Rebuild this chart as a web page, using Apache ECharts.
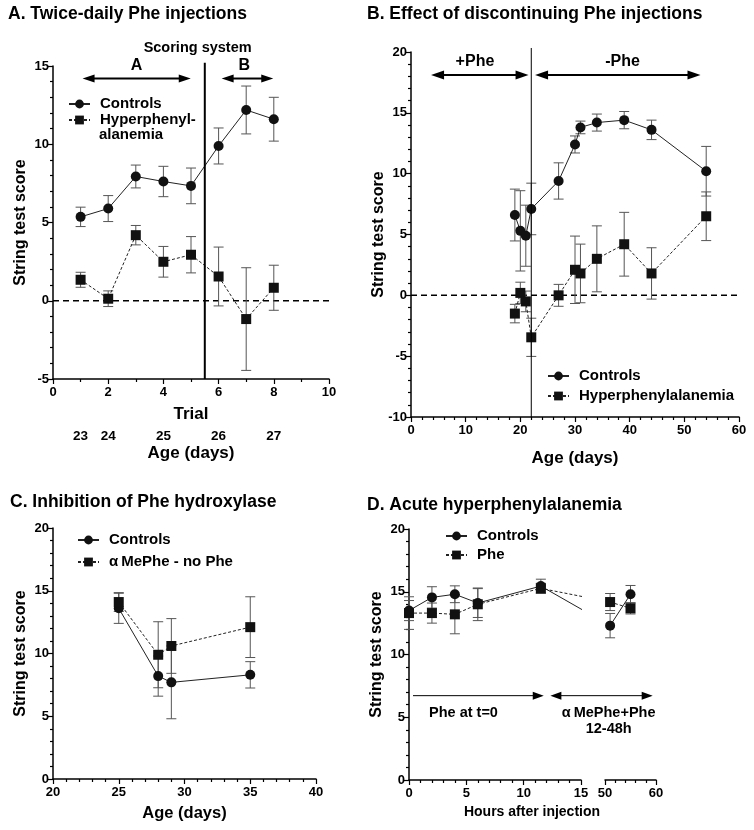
<!DOCTYPE html>
<html><head><meta charset="utf-8">
<script src="https://cdn.jsdelivr.net/npm/echarts@6/dist/echarts.min.js"></script>
<style>html,body{margin:0;padding:0;background:#fff}#c{width:754px;height:830px}</style>
</head><body><div id="c"></div>
<script>
// ---------- Panel A: Twice-daily Phe injections ----------
const trialsA = [1, 2, 3, 4, 5, 6, 7, 8];
const ctrlA = [5.36, 5.89, 7.94, 7.62, 7.34, 9.89, 12.19, 11.6];
const ctrlAErr = [0.62, 0.83, 0.73, 0.97, 1.14, 1.15, 1.53, 1.4];
const hypA = [1.34, 0.13, 4.19, 2.49, 2.94, 1.55, -1.17, 0.83];
const hypAErr = [0.48, 0.5, 0.62, 0.98, 1.16, 1.88, 3.28, 1.44];
const ageTrialsA = [1, 2, 4, 6, 8];
const ageLabelsA = ['23', '24', '25', '26', '27'];

// ---------- Panel B: Effect of discontinuing Phe injections ----------
const daysB = [19, 20, 21, 22, 27, 30, 31, 34, 39, 44, 54];
const ctrlB = [6.6, 5.3, 4.9, 7.1, 9.4, 12.4, 13.8, 14.2, 14.4, 13.6, 10.2];
const ctrlBErr = [2.13, 3.3, 2.51, 2.12, 1.49, 0.7, 0.52, 0.7, 0.71, 0.8, 2.04];
const hypB = [-1.5, 0.2, -0.5, -3.45, 0, 2.1, 1.8, 3.0, 4.2, 1.8, 6.5];
const hypBErr = [0.76, 0.88, 0.85, 1.57, 0.9, 2.77, 2.41, 2.71, 2.62, 2.11, 2.0];

// ---------- Panel C: Inhibition of Phe hydroxylase ----------
const daysC = [25, 28, 29, 35];
const ctrlC = [13.6, 8.2, 7.7, 8.3];
const ctrlCErr = [1.2, 1.6, 2.9, 1.05];
const meC = [14.1, 9.9, 10.6, 12.1];
const meCErr = [0.75, 2.63, 2.18, 2.42];

// ---------- Panel D: Acute hyperphenylalanemia ----------
const hoursD1 = [0, 2, 4, 6, 11.5];
const ctrlD1 = [13.5, 14.55, 14.8, 14.1, 15.45];
const ctrlD1Err = [0.8, 0.85, 0.67, 1.15, 0.55];
const pheD1 = [13.3, 13.3, 13.2, 14.0, 15.27];
const pheD1Err = [1.3, 0.8, 1.55, 1.3, 0.4];
const hoursD2 = [51, 55];
const ctrlD2 = [12.3, 14.8];
const ctrlD2Err = [0.97, 0.7];
const pheD2 = [14.18, 13.68];
const pheD2Err = [0.68, 0.45];

const FONT = '"Liberation Sans", Arial, Helvetica, sans-serif';
const chart = echarts.init(document.getElementById('c'), null, {renderer: 'canvas'});

function errRender(params, api) {
  const x = api.value(0);
  const t = api.coord([x, api.value(2)]);
  const b = api.coord([x, api.value(1)]);
  const cw = 5;
  const st = {stroke: '#555', lineWidth: 1, fill: null};
  return {type: 'group', children: [
    {type: 'line', shape: {x1: t[0], y1: t[1], x2: b[0], y2: b[1]}, style: st},
    {type: 'line', shape: {x1: t[0] - cw, y1: t[1], x2: t[0] + cw, y2: t[1]}, style: st},
    {type: 'line', shape: {x1: b[0] - cw, y1: b[1], x2: b[0] + cw, y2: b[1]}, style: st}
  ]};
}
function errSeries(id, xs, ys, es, ai) {
  return {type: 'custom', id: id, name: id, xAxisIndex: ai, yAxisIndex: ai, silent: true, z: 2,
    data: xs.map((x, i) => [x, ys[i] - es[i], ys[i] + es[i]]),
    encode: {x: 0, y: [1, 2]}, renderItem: errRender};
}
function lineSeries(id, name, xs, ys, ai, dashed) {
  return {type: 'line', id: id, name: name, xAxisIndex: ai, yAxisIndex: ai,
    data: xs.map((x, i) => [x, ys[i]]),
    symbol: dashed ? 'rect' : 'circle', symbolSize: 10, showSymbol: true,
    itemStyle: {color: '#111'}, clip: true, z: 3,
    lineStyle: {color: '#222', width: 1, type: dashed ? [3, 2] : 'solid'},
    emphasis: {disabled: true}};
}
const labelStyle = {color: '#000', fontFamily: FONT, fontWeight: 'bold', fontSize: 13};
const nameStyle = (fs) => ({color: '#000', fontFamily: FONT, fontWeight: 'bold', fontSize: fs});
function xAx(gi, min, max, interval, minorSplit, name, nameGap, extra) {
  return Object.assign({type: 'value', gridIndex: gi, min: min, max: max, interval: interval, position: 'bottom',
    axisLine: {onZero: false, lineStyle: {color: '#000', width: 1.5}},
    axisTick: {show: true, length: 5, lineStyle: {color: '#000', width: 1.2}},
    minorTick: {show: true, splitNumber: minorSplit, length: 3, lineStyle: {color: '#000', width: 1.2}},
    splitLine: {show: false}, minorSplitLine: {show: false},
    axisLabel: Object.assign({margin: 7, showMinLabel: true, showMaxLabel: true}, labelStyle),
    name: name, nameLocation: 'middle', nameGap: nameGap, nameMoveOverlap: false,
    nameTextStyle: nameStyle(17)}, extra || {});
}
function yAx(gi, min, max, interval, name, extra) {
  return Object.assign({type: 'value', gridIndex: gi, min: min, max: max, interval: interval,
    axisLine: {show: true, onZero: false, lineStyle: {color: '#000', width: 1.5}},
    axisTick: {show: true, length: 5, lineStyle: {color: '#000', width: 1.2}},
    minorTick: {show: true, splitNumber: 5, length: 3, lineStyle: {color: '#000', width: 1.2}},
    splitLine: {show: false}, minorSplitLine: {show: false},
    axisLabel: Object.assign({margin: 4, showMinLabel: true, showMaxLabel: true}, labelStyle),
    name: name, nameLocation: 'middle', nameGap: 24, nameMoveOverlap: false,
    nameTextStyle: nameStyle(16)}, extra || {});
}
const legendText = {fontFamily: FONT, fontWeight: 'bold', fontSize: 15, color: '#000', lineHeight: 16, padding: [0, 0, 0, 5]};
function legend(data, left, top, gap, formatter) {
  const l = {data: data, orient: 'vertical', left: left, top: top, itemWidth: 21, itemHeight: 11,
    itemGap: gap, padding: 0, selectedMode: false, textStyle: legendText};
  if (formatter) l.formatter = formatter;
  return l;
}
const titleStyle = {fontFamily: FONT, fontWeight: 'bold', fontSize: 17.5, color: '#000'};

const option = {
  animation: false,
  backgroundColor: '#fff',
  title: [
    {text: 'A. Twice-daily Phe injections', left: 8, top: 5, padding: 0, textStyle: titleStyle},
    {text: 'B. Effect of discontinuing Phe injections', left: 367, top: 5, padding: 0, textStyle: titleStyle},
    {text: 'C. Inhibition of Phe hydroxylase', left: 10, top: 493, padding: 0, textStyle: titleStyle},
    {text: 'D. Acute hyperphenylalanemia', left: 367, top: 496, padding: 0, textStyle: titleStyle}
  ],
  legend: [
    legend(['Controls', 'Hyperphenylalanemia'], 68, 96, 0, n => n === 'Hyperphenylalanemia' ? 'Hyperphenyl-' : n),
    legend(['Controls', 'Hyperphenylalanemia'], 547, 368, 4),
    legend(['Controls', 'αMePhe - no Phe'], 77, 532, 6, n => n === 'αMePhe - no Phe' ? 'α\u2009MePhe - no Phe' : n),
    legend(['Controls', 'Phe'], 445, 528, 3)
  ],
  grid: [
    {left: 53, top: 66, width: 276, height: 313, outerBoundsMode: 'none'},
    {left: 411, top: 52, width: 328, height: 365, outerBoundsMode: 'none'},
    {left: 53, top: 528, width: 263, height: 251, outerBoundsMode: 'none'},
    {left: 409, top: 529, width: 172, height: 251, outerBoundsMode: 'none'},
    {left: 605, top: 529, width: 51, height: 251, outerBoundsMode: 'none'}
  ],
  xAxis: [
    xAx(0, 0, 10, 2, 2, 'Trial', 27),
    xAx(1, 0, 60, 10, 5, 'Age (days)', 33),
    xAx(2, 20, 40, 5, 5, 'Age (days)', 26, {nameTextStyle: nameStyle(16.5)}),
    xAx(3, 0, 15, 5, 5, 'Hours after injection', 25, {nameTextStyle: Object.assign(nameStyle(14), {padding: [0, 0, 0, 74]})}),
    xAx(4, 50, 60, 10, 5, '', 0),
    {type: 'value', gridIndex: 0, min: 0, max: 10, interval: 1, position: 'bottom', offset: 42,
      axisLine: {show: false, onZero: false}, axisTick: {show: false}, splitLine: {show: false},
      axisLabel: Object.assign({margin: 8, showMinLabel: true, showMaxLabel: true,
        formatter: v => { const k = ageTrialsA.indexOf(v); return k >= 0 ? ageLabelsA[k] : ''; }}, labelStyle, {fontSize: 13.5}),
      name: 'Age (days)', nameLocation: 'middle', nameGap: 24, nameMoveOverlap: false, nameTextStyle: nameStyle(17)}
  ],
  yAxis: [
    yAx(0, -5, 15, 5, 'String test score'),
    yAx(1, -10, 20, 5, 'String test score'),
    yAx(2, 0, 20, 5, 'String test score'),
    yAx(3, 0, 20, 5, 'String test score'),
    yAx(4, 0, 20, 5, '', {show: false})
  ],
  series: [
    errSeries('eA1', trialsA, ctrlA, ctrlAErr, 0),
    errSeries('eA2', trialsA, hypA, hypAErr, 0),
    lineSeries('A1', 'Controls', trialsA, ctrlA, 0, false),
    lineSeries('A2', 'Hyperphenylalanemia', trialsA, hypA, 0, true),
    errSeries('eB1', daysB, ctrlB, ctrlBErr, 1),
    errSeries('eB2', daysB, hypB, hypBErr, 1),
    lineSeries('B1', 'Controls', daysB, ctrlB, 1, false),
    lineSeries('B2', 'Hyperphenylalanemia', daysB, hypB, 1, true),
    errSeries('eC1', daysC, ctrlC, ctrlCErr, 2),
    errSeries('eC2', daysC, meC, meCErr, 2),
    lineSeries('C1', 'Controls', daysC, ctrlC, 2, false),
    lineSeries('C2', 'αMePhe - no Phe', daysC, meC, 2, true),
    errSeries('eD1', hoursD1, ctrlD1, ctrlD1Err, 3),
    errSeries('eD2', hoursD1, pheD1, pheD1Err, 3),
    lineSeries('D1', 'Controls', hoursD1, ctrlD1, 3, false),
    lineSeries('D2', 'Phe', hoursD1, pheD1, 3, true),
    errSeries('eD3', hoursD2, ctrlD2, ctrlD2Err, 4),
    errSeries('eD4', hoursD2, pheD2, pheD2Err, 4),
    lineSeries('D3', 'Controls', hoursD2, ctrlD2, 4, false),
    lineSeries('D4', 'Phe', hoursD2, pheD2, 4, true)
  ]
};
chart.setOption(option);

// ---- continuation of the D lines across the broken axis (clipped at the gap) ----
function ghost(ai, x, y) {
  const p = chart.convertToPixel({xAxisIndex: 4, yAxisIndex: 4}, [x, y]);
  return chart.convertFromPixel({xAxisIndex: ai, yAxisIndex: ai}, p);
}
const gC = ghost(3, hoursD2[0], ctrlD2[0]);
const gP = ghost(3, hoursD2[0], pheD2[0]);
chart.setOption({series: [
  {id: 'D1', data: hoursD1.map((x, i) => [x, ctrlD1[i]]).concat([{value: gC, symbol: 'none'}])},
  {id: 'D2', data: hoursD1.map((x, i) => [x, pheD1[i]]).concat([{value: gP, symbol: 'none'}])}
]});

// ---- annotations placed through the axes ----
const P = (ai, x, y) => chart.convertToPixel({xAxisIndex: ai, yAxisIndex: ai}, [x, y]);
const G = [];
function hline(a, b, w, dash, z) {
  G.push({type: 'line', z: z || 1, shape: {x1: a[0], y1: a[1], x2: b[0], y2: b[1]},
    style: {stroke: '#000', lineWidth: w, lineDash: dash || null}});
}
function arrow(a, b, w, hl, hw, left, right) {
  const x1 = a[0] + (left ? hl - 1 : 0), x2 = b[0] - (right ? hl - 1 : 0);
  G.push({type: 'line', z: 5, shape: {x1: x1, y1: a[1], x2: x2, y2: b[1]}, style: {stroke: '#000', lineWidth: w}});
  if (left) G.push({type: 'polygon', z: 5, shape: {points: [[a[0], a[1]], [a[0] + hl, a[1] - hw / 2], [a[0] + hl, a[1] + hw / 2]]}, style: {fill: '#000'}});
  if (right) G.push({type: 'polygon', z: 5, shape: {points: [[b[0], b[1]], [b[0] - hl, b[1] - hw / 2], [b[0] - hl, b[1] + hw / 2]]}, style: {fill: '#000'}});
}
function txt(p, s, fs) {
  G.push({type: 'text', z: 5, x: p[0], y: p[1], style: {text: s, fill: '#000', fontFamily: FONT, fontWeight: 'bold',
    fontSize: fs, align: 'center', verticalAlign: 'middle'}});
}
// Panel A
hline(P(0, 0, 0), P(0, 10, 0), 1.5, [6, 4], 1);
hline(P(0, 5.5, -5), P(0, 5.5, 15.2), 2, null, 4);
txt(P(0, 5.24, 16.15), 'Scoring system', 14.5);
txt(P(0, 3.03, 15.0), 'A', 16);
txt(P(0, 6.93, 15.0), 'B', 16);
arrow(P(0, 1.07, 14.2), P(0, 4.99, 14.2), 2, 12, 8, true, true);
arrow(P(0, 6.11, 14.2), P(0, 7.98, 14.2), 2, 12, 8, true, true);
// legend A second line
G.push({type: 'text', z: 5, x: 99, y: 135, style: {text: 'alanemia', fill: '#000', fontFamily: FONT, fontWeight: 'bold',
  fontSize: 15, align: 'left', verticalAlign: 'middle'}});
// Panel B
hline(P(1, 0, 0), P(1, 60, 0), 1.5, [6, 4], 1);
hline(P(1, 22, -10), P(1, 22, 20.33), 1, null, 4);
txt(P(1, 11.7, 19.2), '+Phe', 16);
txt(P(1, 38.7, 19.2), '-Phe', 16);
arrow(P(1, 3.67, 18.1), P(1, 21.5, 18.1), 2, 13, 9, true, true);
arrow(P(1, 22.7, 18.1), P(1, 52.96, 18.1), 2, 13, 9, true, true);
// Panel D
arrow(P(3, 0.35, 6.72), P(3, 11.75, 6.72), 1, 11, 8, false, true);
arrow(P(3, 12.33, 6.72), P(4, 59.35, 6.72), 1, 11, 8, true, true);
txt(P(3, 4.75, 5.36), 'Phe at t=0', 14.5);
txt(P(4, 50.72, 5.3), 'α\u2009MePhe+Phe', 14.5);
txt(P(4, 50.72, 4.05), '12-48h', 14.5);

chart.setOption({graphic: {elements: G}});
</script>
</body></html>
